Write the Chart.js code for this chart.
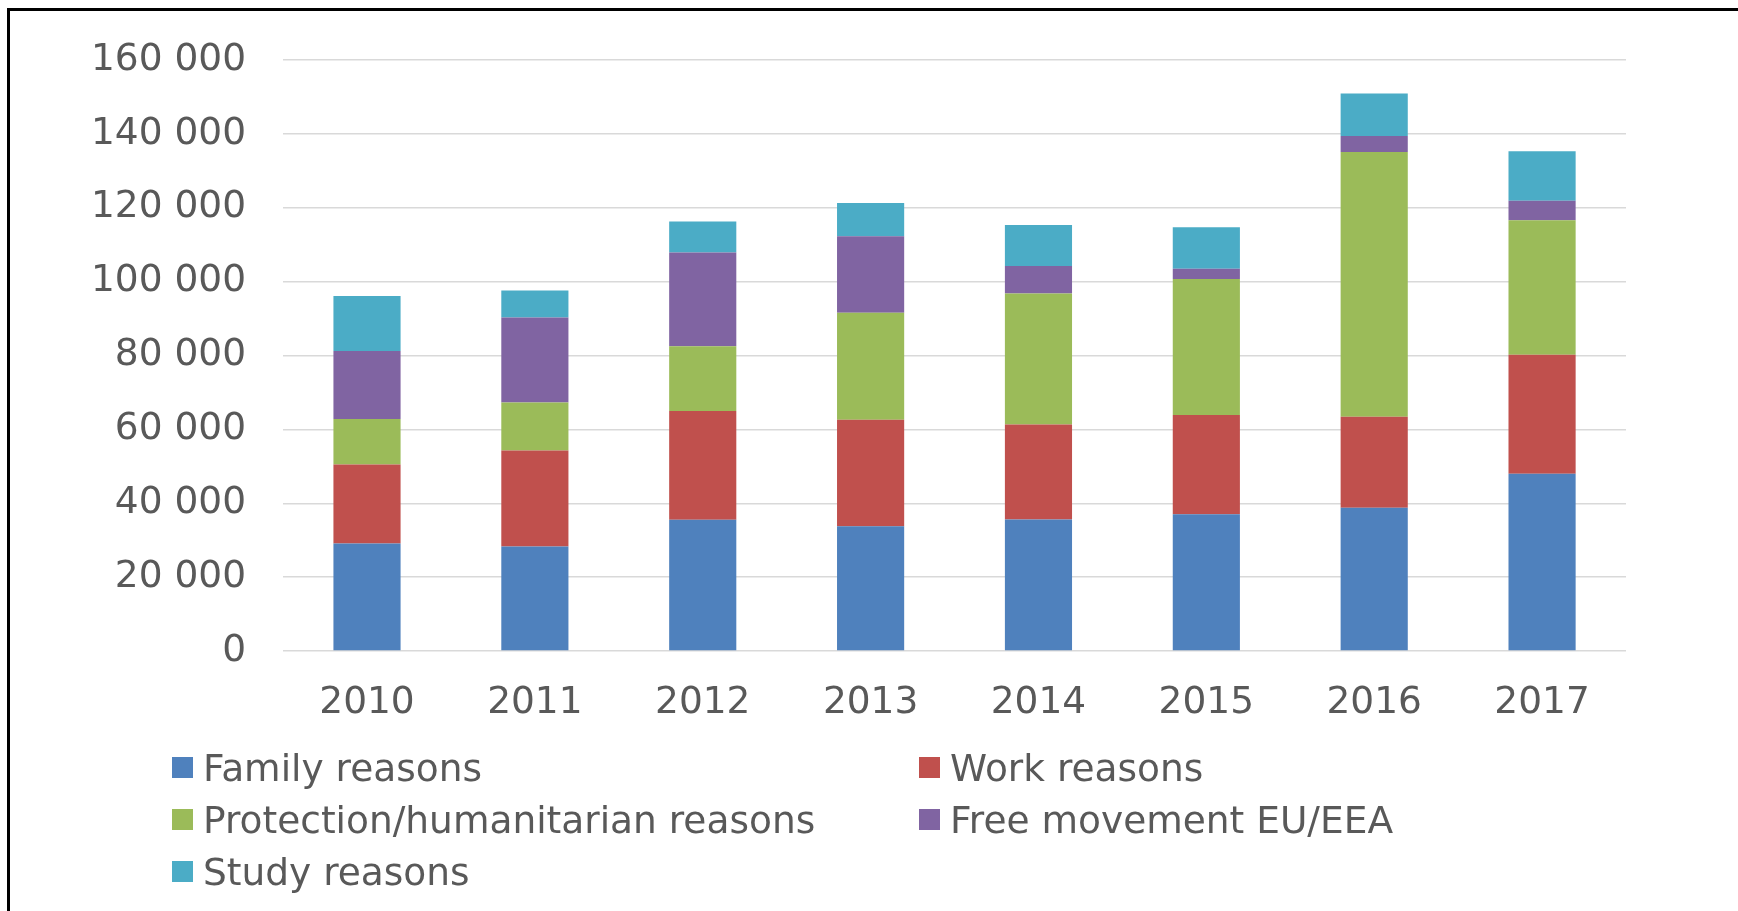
<!DOCTYPE html>
<html>
<head>
<meta charset="utf-8">
<script src="https://cdn.jsdelivr.net/npm/chart.js@4.4.1/dist/chart.umd.min.js"></script>
<style>
  html, body { margin: 0; padding: 0; background: #fff; }
  body { width: 1738px; height: 911px; position: relative; overflow: hidden; font-family: "DejaVu Sans", Verdana, sans-serif; }
  #frame { position: absolute; left: 7px; top: 8px; right: 0; bottom: -10px; border-top: 3px solid #000; border-left: 3px solid #000; }
  #wrap { position: absolute; left: 0; top: 0; width: 1738px; height: 756px; }
  #legend { position: absolute; left: 172px; top: 757px; display: grid; grid-template-columns: 747px auto; row-gap: 31px; }
  .item { display: flex; align-items: center; height: 21px; font-size: 37.5px; color: #595959; white-space: nowrap; }
  .dot { width: 21px; height: 21px; margin-right: 10px; flex: none; }
</style>
</head>
<body>
<div id="frame"></div>
<div id="wrap"><canvas id="chart"></canvas></div>
<div id="legend"></div>
<script>
const years = ['2010', '2011', '2012', '2013', '2014', '2015', '2016', '2017'];
const family = [29100, 28300, 35500, 33800, 35600, 37000, 38800, 48000];
const work = [21400, 26000, 29500, 28800, 25700, 26900, 24600, 32200];
const protection = [12300, 13000, 17500, 29000, 35500, 36800, 71700, 36400];
const freeMove = [18400, 23000, 25400, 20700, 7400, 2800, 4300, 5300];
const study = [14900, 7300, 8400, 9000, 11100, 11200, 11500, 13400];
const yTicks = [0, 20000, 40000, 60000, 80000, 100000, 120000, 140000, 160000];

const seriesNames = ['Family reasons', 'Work reasons', 'Protection/humanitarian reasons', 'Free movement EU/EEA', 'Study reasons'];
const seriesData = [family, work, protection, freeMove, study];
const COLORS = ['#4F81BD', '#C0504D', '#9BBB59', '#8064A2', '#4BACC6'];

const fmt = v => String(v).replace(/\B(?=(\d{3})+(?!\d))/g, ' ');

const datasets = seriesNames.map((name, i) => ({
  label: name,
  data: seriesData[i],
  backgroundColor: COLORS[i],
  borderWidth: 0,
  barPercentage: 0.4,
  categoryPercentage: 1
}));

new Chart(document.getElementById('chart').getContext('2d'), {
  type: 'bar',
  data: { labels: years, datasets },
  options: {
    responsive: true,
    maintainAspectRatio: false,
    animation: false,
    layout: { padding: { left: 54, right: 112, top: 60, bottom: 0 } },
    plugins: { legend: { display: false }, tooltip: { enabled: false } },
    scales: {
      x: {
        stacked: true,
        grid: { display: false, drawTicks: false },
        border: { display: false },
        ticks: { color: '#595959', font: { family: 'DejaVu Sans', size: 37.5 }, padding: 30 }
      },
      y: {
        stacked: true,
        min: 0,
        max: 160000,
        afterBuildTicks: axis => { axis.ticks = yTicks.map(v => ({ value: v })); },
        grid: { color: '#D9D9D9', lineWidth: 1.5, drawTicks: false },
        border: { display: false },
        ticks: { color: '#595959', font: { family: 'DejaVu Sans', size: 37.5 }, padding: 37, callback: v => fmt(v) }
      }
    }
  }
});

document.getElementById('legend').innerHTML = seriesNames.map((n, i) => `
  <div class="item"><span class="dot" style="background:${COLORS[i]}"></span>${n}</div>`).join('');
</script>
</body>
</html>
